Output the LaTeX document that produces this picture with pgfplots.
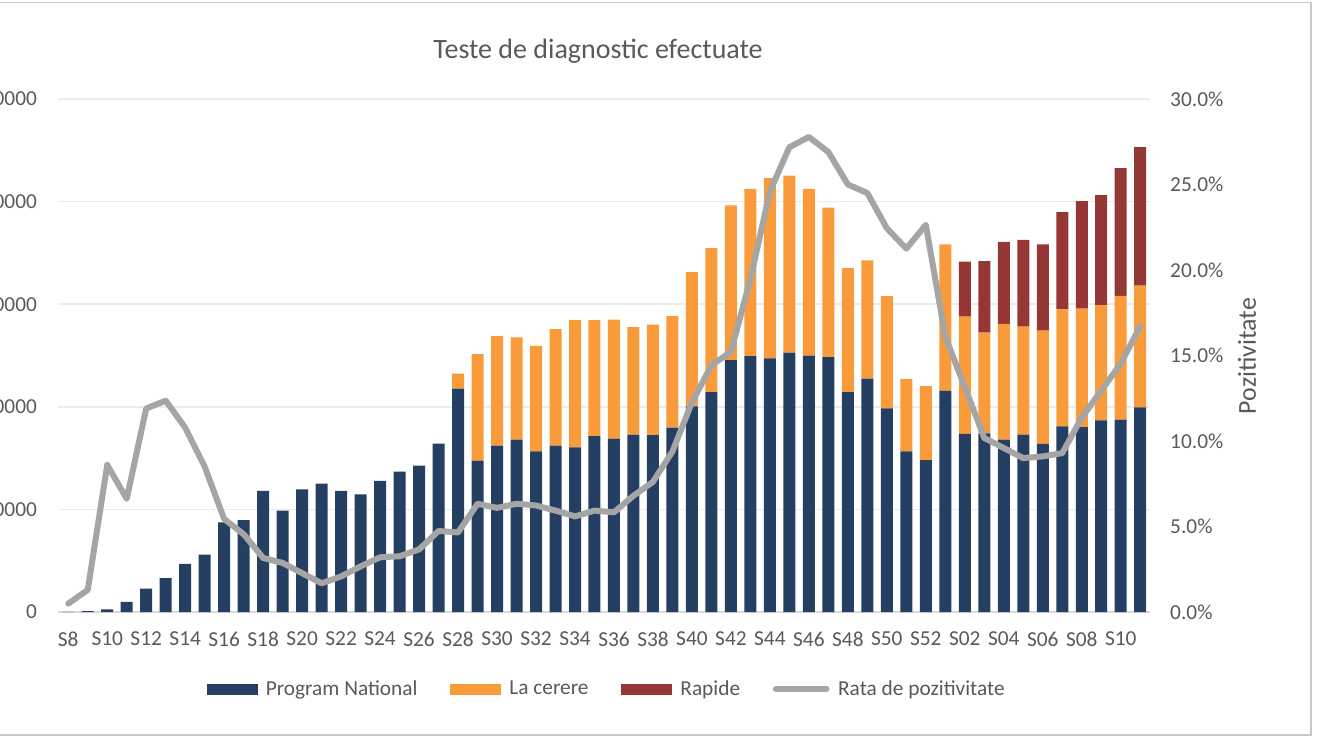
\documentclass[border=0pt]{standalone}
\usepackage{pgfplots}
\usepackage{pgfplotstable}
\pgfplotsset{compat=1.18}
\usepackage{fontspec}
\setmainfont{Carlito}
\definecolor{navy}{HTML}{243F62}
\definecolor{orng}{HTML}{F99B3B}
\definecolor{rred}{HTML}{953735}
\definecolor{lgray}{HTML}{A5A5A5}
\definecolor{txt}{HTML}{595959}
\definecolor{gridc}{HTML}{EBEBEB}
\definecolor{basec}{HTML}{D9D9D9}
\definecolor{bord}{HTML}{C8C8C8}

\pgfplotstableread{
i navy cerere rapide pos
0 100 0 0 0.49
1 400 0 0 1.29
2 1300 0 0 8.6
3 4900 0 0 6.62
4 11400 0 0 11.9
5 16500 0 0 12.36
6 23400 0 0 10.78
7 28000 0 0 8.5
8 43700 0 0 5.44
9 44800 0 0 4.55
10 59000 0 0 3.16
11 49400 0 0 2.87
12 59700 0 0 2.27
13 62600 0 0 1.68
14 59000 0 0 2.08
15 57300 0 0 2.67
16 63900 0 0 3.2
17 68400 0 0 3.26
18 71300 0 0 3.66
19 82100 0 0 4.74
20 108800 7400 0 4.65
21 73800 51900 0 6.33
22 81100 53400 0 6.09
23 84000 49800 0 6.33
24 78300 51400 0 6.23
25 81100 56800 0 5.93
26 80200 62000 0 5.59
27 85700 56500 0 5.93
28 84500 58000 0 5.83
29 86500 52300 0 6.8
30 86200 53900 0 7.61
31 89800 54400 0 9.39
32 100200 65400 0 12.26
33 107100 70200 0 14.43
34 122800 75300 0 15.22
35 124700 81500 0 19.47
36 123600 87800 0 24.6
37 126400 86200 0 27.18
38 124900 81300 0 27.78
39 124200 72900 0 26.9
40 107100 60500 0 25.0
41 113700 57700 0 24.5
42 99200 54700 0 22.44
43 78300 35200 0 21.25
44 74000 36100 0 22.64
45 107900 71200 0 16.1
46 86800 57200 26700 13.15
47 87000 49100 34900 10.18
48 84000 56400 40000 9.59
49 86500 52600 42300 9.0
50 81900 55200 42000 9.1
51 90500 57000 47400 9.29
52 90100 57700 52400 11.37
53 93400 56100 53700 12.95
54 93800 60300 62200 14.53
55 99700 59300 67600 16.71
}\data

\begin{document}
\begin{tikzpicture}
\path[use as bounding box] (0pt,0pt) rectangle (990pt,557.25pt);
\draw[bord, line width=0.8pt] (-10pt,555.6pt) -- (983.25pt,555.6pt) -- (983.25pt,6pt) -- (-10pt,6pt);

\begin{axis}[
  at={(43.875pt,98.25pt)}, anchor=south west,
  scale only axis, width=818.6pt, height=384.75pt,
  xmin=-0.5, xmax=55.5, ymin=0, ymax=250000,
  ybar stacked, bar width=9pt,
  axis line style={draw=none},
  major tick length=0pt,
  tick style={draw=none},
  xtick={0,2,...,54},
  xticklabels={S8,S10,S12,S14,S16,S18,S20,S22,S24,S26,S28,S30,S32,S34,S36,S38,S40,S42,S44,S46,S48,S50,S52,S02,S04,S06,S08,S10},
  ytick={0,50000,100000,150000,200000,250000},
  yticklabels={0,50000,100000,150000,200000,250000},
  scaled y ticks=false,
  ymajorgrids, grid style={gridc, line width=1.1pt},
  extra y ticks={0}, extra y tick labels={},
  extra y tick style={grid style={basec, line width=1.5pt}},
  tick label style={font=\fontsize{16}{19}\selectfont, text=txt},
  xticklabel style={inner sep=0pt, anchor=north, yshift=-14.5pt},
  yticklabel style={inner sep=0pt, anchor=east, xshift=-16pt},
  clip=false,
]
\addplot[fill=navy, draw=none] table[x=i, y=navy] {\data};
\addplot[fill=orng, draw=none] table[x=i, y=cerere] {\data};
\addplot[fill=rred, draw=none] table[x=i, y=rapide] {\data};
\end{axis}

\begin{axis}[
  at={(43.875pt,98.25pt)}, anchor=south west,
  scale only axis, width=818.6pt, height=384.75pt,
  xmin=-0.5, xmax=55.5, ymin=0, ymax=30,
  axis y line*=right, hide x axis,
  axis line style={draw=none},
  major tick length=0pt, tick style={draw=none},
  ytick={0,5,10,15,20,25,30},
  yticklabels={0.0\%,5.0\%,10.0\%,15.0\%,20.0\%,25.0\%,30.0\%},
  tick label style={font=\fontsize{16}{19}\selectfont, text=txt},
  yticklabel style={inner sep=0pt, anchor=west, xshift=15pt},
  legend columns=4,
  legend style={at={(axis description cs:0.5025,-0.150)}, anchor=center, draw=none, fill=none,
    font=\fontsize{16}{19}\selectfont, text=txt,
    /tikz/every odd column/.append style={column sep=4.5pt},
    /tikz/every even column/.append style={column sep=22.5pt},
    nodes={inner sep=2pt}},
  clip=false,
]
\addlegendimage{legend image code/.code={\fill[navy] (0pt,-3.75pt) rectangle (37.5pt,3.75pt);}}
\addlegendentry{Program National}
\addlegendimage{legend image code/.code={\fill[orng] (0pt,-3.75pt) rectangle (37.5pt,3.75pt);}}
\addlegendentry{La cerere}
\addlegendimage{legend image code/.code={\fill[rred] (0pt,-3.75pt) rectangle (37.5pt,3.75pt);}}
\addlegendentry{Rapide}
\addplot[lgray, line width=4.5pt, line join=round, line cap=round, mark=none,
  legend image code/.code={\draw[lgray, line width=4.5pt, line cap=round] (2pt,0pt) -- (40pt,0pt);}]
  table[x=i, y=pos] {\data};
\addlegendentry{Rata de pozitivitate}
\end{axis}

\node[font=\fontsize{21}{25}\selectfont, text=txt] at (448.5pt,519pt) {Teste de diagnostic efectuate};
\node[rotate=90, font=\fontsize{19.4}{23}\selectfont, text=txt] at (935.25pt,290.25pt) {Pozitivitate};
\end{tikzpicture}
\end{document}
